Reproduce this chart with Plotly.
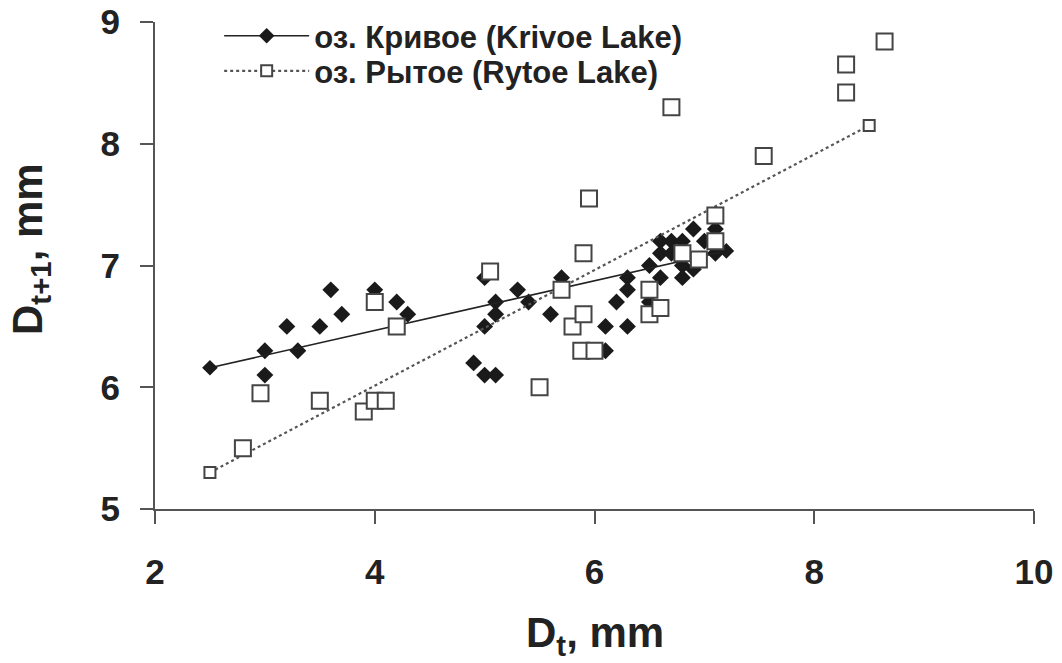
import plotly.graph_objects as go

# Krivoe Lake observations (D_t, D_t+1), mm
krivoe_x = [3.0, 3.0, 3.2, 3.3, 3.5, 3.6, 3.7, 4.0, 4.2, 4.3,
            4.9, 5.0, 5.1, 5.0, 5.1, 5.1, 5.0, 5.3, 5.4, 5.6, 5.7,
            6.1, 6.1, 6.3, 6.2, 6.3, 6.3, 6.5, 6.5, 6.6, 6.6, 6.7,
            6.6, 6.7, 6.8, 6.8, 6.8, 6.9, 6.9, 7.1, 7.0, 7.1]
krivoe_y = [6.3, 6.1, 6.5, 6.3, 6.5, 6.8, 6.6, 6.8, 6.7, 6.6,
            6.2, 6.1, 6.1, 6.5, 6.6, 6.7, 6.9, 6.8, 6.7, 6.6, 6.9,
            6.3, 6.5, 6.5, 6.7, 6.8, 6.9, 7.0, 6.7, 6.9, 7.2, 7.2,
            7.1, 7.1, 7.2, 7.0, 6.9, 6.97, 7.3, 7.3, 7.2, 7.1]

# Rytoe Lake observations (D_t, D_t+1), mm
rytoe_x = [2.8, 2.96, 3.5, 3.9, 4.0, 4.1, 4.0, 4.2, 5.05, 5.5,
           5.7, 5.8, 5.9, 5.9, 5.95, 5.88, 6.0, 6.5, 6.5, 6.6,
           6.7, 6.8, 6.95, 7.1, 7.1, 7.54, 8.29, 8.29, 8.64]
rytoe_y = [5.5, 5.95, 5.89, 5.8, 5.89, 5.89, 6.7, 6.5, 6.95, 6.0,
           6.8, 6.5, 6.6, 7.1, 7.55, 6.3, 6.3, 6.8, 6.6, 6.65,
           8.3, 7.1, 7.05, 7.2, 7.41, 7.9, 8.42, 8.65, 8.84]

# Trend lines (end points as drawn)
krivoe_trend_x = [2.5, 7.2]
krivoe_trend_y = [6.16, 7.12]
rytoe_trend_x = [2.5, 8.5]
rytoe_trend_y = [5.3, 8.15]

legend_names = ["оз. Кривое (Krivoe Lake)", "оз. Рытое (Rytoe Lake)"]
x_ticks = [2, 4, 6, 8, 10]
y_ticks = [5, 6, 7, 8, 9]
x_title = "D<sub>t</sub>, mm"
y_title = "D<sub>t+1</sub>, mm"

FONT = "Liberation Sans, Arial, sans-serif"
TXT = "#222222"
AX = "#555555"

fig = go.Figure()

fig.add_trace(go.Scatter(
    x=krivoe_x, y=krivoe_y, mode="markers", showlegend=False,
    marker=dict(symbol="diamond", size=13, color="#1a1a1a"),
))
fig.add_trace(go.Scatter(
    x=krivoe_trend_x, y=krivoe_trend_y, mode="lines+markers", name=legend_names[0],
    legend="legend",
    line=dict(color="#222222", width=1.6),
    marker=dict(symbol="diamond", size=12, color="#1a1a1a"),
))
fig.add_trace(go.Scatter(
    x=rytoe_trend_x, y=rytoe_trend_y, mode="lines+markers", name=legend_names[1],
    legend="legend2",
    line=dict(color="#555555", width=2.2, dash="dot"),
    marker=dict(symbol="square", size=11, color="white",
                line=dict(color="#444444", width=2)),
))
fig.add_trace(go.Scatter(
    x=rytoe_x, y=rytoe_y, mode="markers", showlegend=False,
    marker=dict(symbol="square", size=16, color="white",
                line=dict(color="#444444", width=2)),
))

legend_font = dict(size=31, family=FONT, color=TXT, weight="bold")
common_legend = dict(x=0.073, xanchor="left", yanchor="middle",
                     bgcolor="rgba(0,0,0,0)", font=legend_font, itemwidth=85)

fig.update_layout(
    width=1062, height=663,
    margin=dict(l=155, r=28, t=22, b=154, autoexpand=False),
    plot_bgcolor="white", paper_bgcolor="white",
    font=dict(family=FONT, color=TXT),
    legend=dict(y=0.971, **common_legend),
    legend2=dict(y=0.899, **common_legend),
    xaxis=dict(
        range=[2, 10], tickvals=x_ticks, showgrid=False, zeroline=False,
        showline=True, linecolor=AX, linewidth=2, automargin=False,
        ticks="outside", ticklen=13, tickwidth=2, tickcolor=AX,
        tickfont=dict(size=35, family=FONT, color=TXT, weight="bold"),
        ticklabelstandoff=18,
    ),
    yaxis=dict(
        range=[5, 9], tickvals=y_ticks, showgrid=False, zeroline=False,
        showline=True, linecolor=AX, linewidth=2, automargin=False,
        ticks="outside", ticklen=13, tickwidth=2, tickcolor=AX,
        tickfont=dict(size=35, family=FONT, color=TXT, weight="bold"),
        ticklabelstandoff=13,
    ),
    annotations=[
        dict(text=x_title, xref="paper", yref="paper", x=0.5, y=-0.26,
             xanchor="center", yanchor="middle", showarrow=False,
             font=dict(size=42, family=FONT, color=TXT, weight="bold")),
        dict(text=y_title, xref="paper", yref="paper", x=-0.141, y=0.534,
             xanchor="center", yanchor="middle", showarrow=False, textangle=-90,
             font=dict(size=42, family=FONT, color=TXT, weight="bold")),
    ],
)

fig.write_html(
    "out.html",
    config={"displayModeBar": False},
    post_script="document.body.style.margin='0';document.body.style.overflow='hidden';",
)
